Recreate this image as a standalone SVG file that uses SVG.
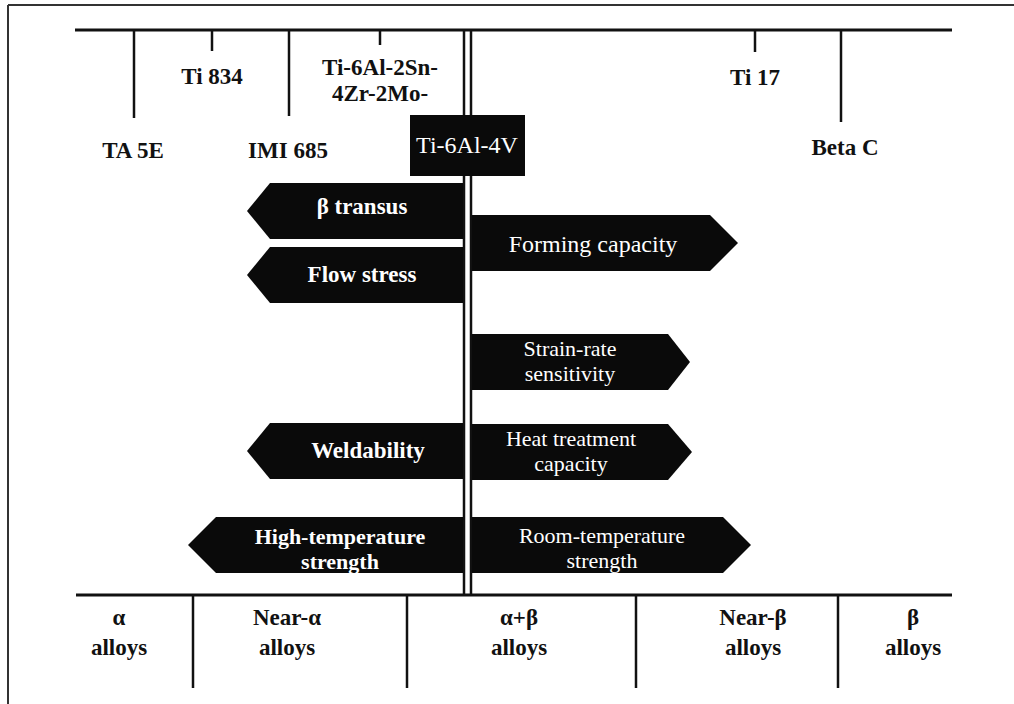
<svg xmlns="http://www.w3.org/2000/svg" width="1014" height="704" viewBox="0 0 1014 704">
<style>
.t{font-family:"Liberation Serif","Times New Roman",serif;font-weight:bold;font-size:23px;fill:#111;text-anchor:middle}
.w{font-family:"Liberation Serif","Times New Roman",serif;font-size:23px;fill:#fff;text-anchor:middle}
.wb{font-weight:bold}
.s{font-size:22px}
.ln{stroke:#111;fill:none}
.arr{fill:#0a0a0a}
</style>
<rect width="1014" height="704" fill="#fff"/>
<g id="frame">
<line x1="8" y1="5" x2="1014" y2="5" stroke="#333" stroke-width="2"/>
<line x1="8" y1="5" x2="8" y2="704" stroke="#333" stroke-width="2"/>
</g>
<g id="connectors">
<line class="ln" x1="75" y1="30" x2="952" y2="30" stroke-width="3"/>
<line class="ln" x1="134" y1="30" x2="134" y2="118" stroke-width="2.5"/>
<line class="ln" x1="212" y1="30" x2="212" y2="51" stroke-width="2.5"/>
<line class="ln" x1="289" y1="30" x2="289" y2="116" stroke-width="2.5"/>
<line class="ln" x1="380" y1="30" x2="380" y2="45" stroke-width="2.5"/>
<line class="ln" x1="755" y1="30" x2="755" y2="52" stroke-width="2.5"/>
<line class="ln" x1="841" y1="30" x2="841" y2="122" stroke-width="2.5"/>
<line class="ln" x1="464" y1="30" x2="464" y2="595" stroke-width="2.5"/>
<line class="ln" x1="471" y1="30" x2="471" y2="595" stroke-width="2.5"/>
<line class="ln" x1="76" y1="595" x2="952" y2="595" stroke-width="3"/>
<line class="ln" x1="193" y1="595" x2="193" y2="688" stroke-width="2.5"/>
<line class="ln" x1="407" y1="595" x2="407" y2="688" stroke-width="2.5"/>
<line class="ln" x1="636" y1="595" x2="636" y2="688" stroke-width="2.5"/>
<line class="ln" x1="838" y1="595" x2="838" y2="688" stroke-width="2.5"/>
</g>
<g id="alloy-labels">
<text class="t" x="133" y="158">TA 5E</text>
<text class="t" x="212" y="84">Ti 834</text>
<text class="t" x="288" y="158">IMI 685</text>
<text class="t" x="380" y="75">Ti-6Al-2Sn-</text>
<text class="t" x="380" y="101">4Zr-2Mo-</text>
<text class="t" x="755" y="85">Ti 17</text>
<text class="t" x="845" y="155">Beta C</text>
</g>
<g id="ti64">
<rect x="410" y="115" width="115" height="61" fill="#0a0a0a"/>
<text class="w" x="467" y="153" style="font-size:24px">Ti-6Al-4V</text>
</g>
<g id="beta-transus">
<polygon class="arr" points="247,211 270,183 463,183 463,239 270,239"/>
<text class="w wb" x="362" y="214">β transus</text>
</g>
<g id="flow-stress">
<polygon class="arr" points="247,275 270,247 463,247 463,303 270,303"/>
<text class="w wb" x="362" y="282">Flow stress</text>
</g>
<g id="weldability">
<polygon class="arr" points="247,451 270,423 463,423 463,479 270,479"/>
<text class="w wb" x="368" y="458">Weldability</text>
</g>
<g id="high-temperature-strength">
<polygon class="arr" points="188,545 216,517 463,517 463,573 216,573"/>
<text class="w wb s" x="340" y="544">High-temperature</text>
<text class="w wb s" x="340" y="569">strength</text>
</g>
<g id="forming-capacity">
<polygon class="arr" points="472,215 710,215 738,243 710,271 472,271"/>
<text class="w" x="593" y="252" style="font-size:24px">Forming capacity</text>
</g>
<g id="strain-rate-sensitivity">
<polygon class="arr" points="472,334 668,334 690,362 668,390 472,390"/>
<text class="w s" x="570" y="356">Strain-rate</text>
<text class="w s" x="570" y="381">sensitivity</text>
</g>
<g id="heat-treatment-capacity">
<polygon class="arr" points="472,424 668,424 692,452 668,480 472,480"/>
<text class="w s" x="571" y="446">Heat treatment</text>
<text class="w s" x="571" y="471">capacity</text>
</g>
<g id="room-temperature-strength">
<polygon class="arr" points="472,517 723,517 751,545 723,573 472,573"/>
<text class="w s" x="602" y="543">Room-temperature</text>
<text class="w s" x="602" y="568">strength</text>
</g>
<g id="classes">
<text class="t" x="119" y="625">α</text>
<text class="t" x="119" y="655">alloys</text>
<text class="t" x="287" y="625">Near-α</text>
<text class="t" x="287" y="655">alloys</text>
<text class="t" x="519" y="625">α+β</text>
<text class="t" x="519" y="655">alloys</text>
<text class="t" x="753" y="625">Near-β</text>
<text class="t" x="753" y="655">alloys</text>
<text class="t" x="913" y="625">β</text>
<text class="t" x="913" y="655">alloys</text>
</g>
</svg>
